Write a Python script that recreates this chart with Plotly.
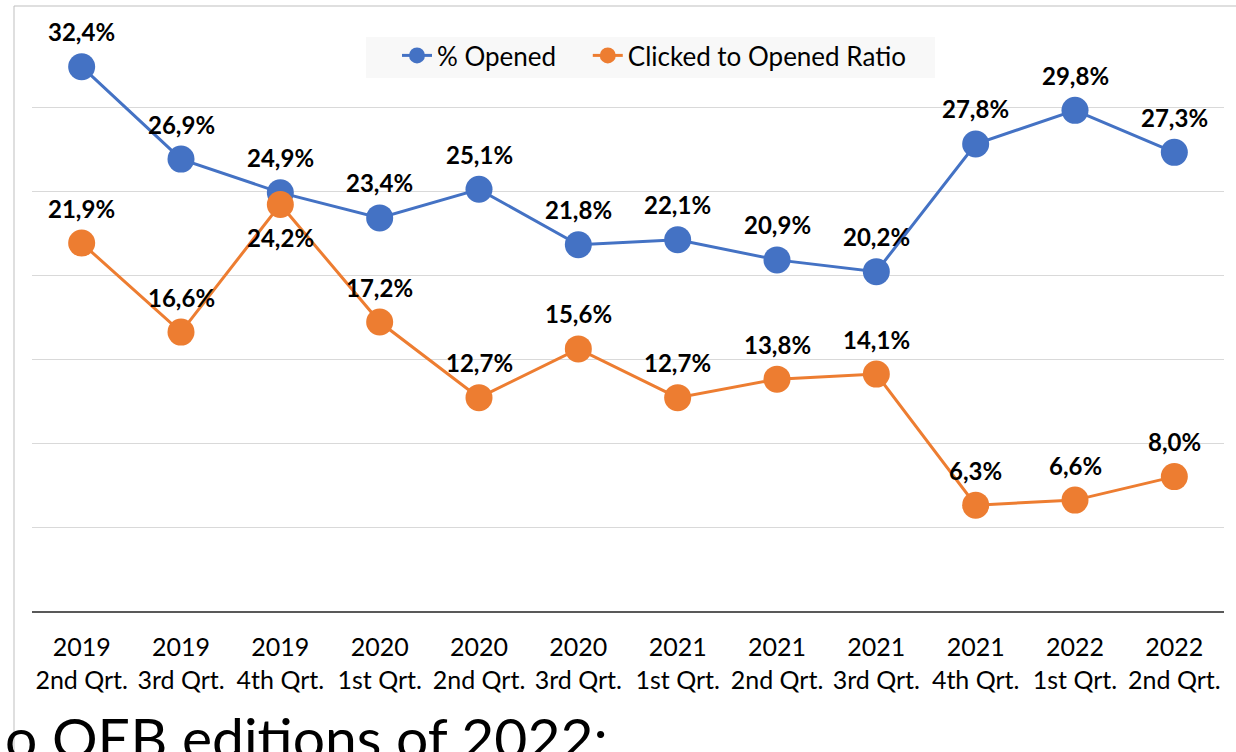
import plotly.graph_objects as go

W, H = 1236, 752

quarters = ["2019<br>2nd Qrt.", "2019<br>3rd Qrt.", "2019<br>4th Qrt.", "2020<br>1st Qrt.",
            "2020<br>2nd Qrt.", "2020<br>3rd Qrt.", "2021<br>1st Qrt.", "2021<br>2nd Qrt.",
            "2021<br>3rd Qrt.", "2021<br>4th Qrt.", "2022<br>1st Qrt.", "2022<br>2nd Qrt."]
opened = [32.4, 26.9, 24.9, 23.4, 25.1, 21.8, 22.1, 20.9, 20.2, 27.8, 29.8, 27.3]
clicked_ratio = [21.9, 16.6, 24.2, 17.2, 12.7, 15.6, 12.7, 13.8, 14.1, 6.3, 6.6, 8.0]
ratio_label_below = [False, False, True, False, False, False, False, False, False, False, False, False]

BLUE = "#4472C4"
ORANGE = "#ED7D31"
FONT = "Lato"

# plot area in pixels
L, R, T, B = 32, 12, 23, 141
pw, ph = W - L - R, H - T - B


def px_x(x):
    return (x - L) / pw


def px_y(y):
    return (H - B - y) / ph


def fmt(v):
    return f"{v:.1f}".replace(".", ",") + "%"


fig = go.Figure()
series = [("% Opened" + "\u00a0" * 4, opened, BLUE), ("Clicked to Opened Ratio", clicked_ratio, ORANGE)]
for name, vals, col in series:
    fig.add_trace(go.Scatter(
        x=quarters, y=vals, name=name, mode="lines+markers",
        line=dict(color=col, width=3),
        marker=dict(size=27, color=col),
        hoverinfo="skip",
    ))

lbl_font = dict(family=FONT, size=24, color="black", weight="bold")
anns = []
for q, v in zip(quarters, opened):
    anns.append(dict(x=q, y=v, text=fmt(v), showarrow=False, yshift=35, font=lbl_font))
for q, v, below in zip(quarters, clicked_ratio, ratio_label_below):
    anns.append(dict(x=q, y=v, text=fmt(v), showarrow=False, yshift=-33 if below else 35, font=lbl_font))

anns.append(dict(xref="paper", yref="paper", x=px_x(3), y=px_y(701), xanchor="left", yanchor="top",
                 text="o OEB editions of 2022:", showarrow=False,
                 font=dict(family=FONT, size=57, color="black")))

fig.update_layout(
    width=W, height=H,
    margin=dict(l=L, r=R, t=T, b=B),
    paper_bgcolor="white", plot_bgcolor="white",
    font=dict(family=FONT, color="black"),
    annotations=anns,
    legend=dict(orientation="h", x=px_x(397), y=px_y(32), xanchor="left", yanchor="top",
                bgcolor="rgba(0,0,0,0)", font=dict(size=26, color="black"),
                itemwidth=30),
    shapes=[
        dict(type="rect", xref="paper", yref="paper", x0=px_x(366), x1=px_x(935), y0=px_y(37), y1=px_y(78),
             fillcolor="#F8F8F8", line=dict(width=0), layer="below"),
        dict(type="line", xref="paper", yref="paper", x0=px_x(14), x1=px_x(14), y0=px_y(6), y1=px_y(H + 5),
             line=dict(color="#BFBFBF", width=1)),
        dict(type="line", xref="paper", yref="paper", x0=px_x(14), x1=px_x(W + 5), y0=px_y(6), y1=px_y(6),
             line=dict(color="#BFBFBF", width=1)),
    ],
    xaxis=dict(range=[-0.5, 11.5], showgrid=False, showline=True, linecolor="#595959", linewidth=2,
               ticks="", ticklabelstandoff=13, tickfont=dict(size=25, color="black"), fixedrange=True),
    yaxis=dict(range=[0, 35], dtick=5, showgrid=True, gridcolor="#D9D9D9", gridwidth=1,
               showticklabels=False, zeroline=False, fixedrange=True),
)

fig.write_html("out.html", config={"displayModeBar": False},
               post_script="document.body.style.margin='0';document.body.style.overflow='hidden';")
